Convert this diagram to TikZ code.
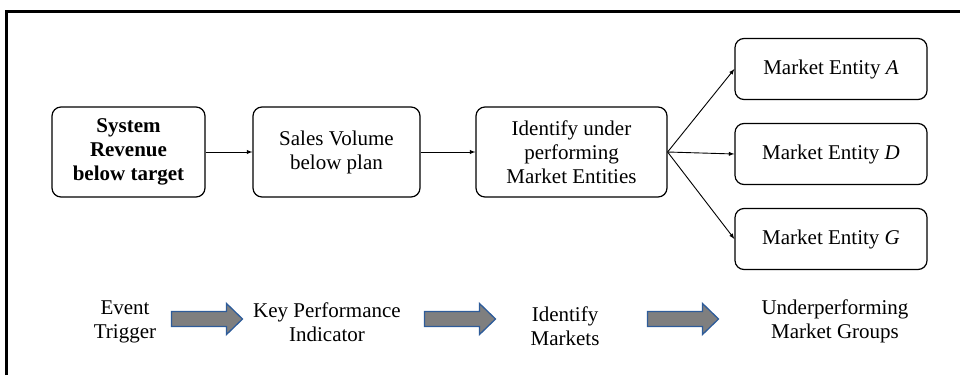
\documentclass[tikz,border=0pt]{standalone}
\usepackage{fontspec}
\setmainfont{Liberation Serif}
\usepackage{xcolor}
\usetikzlibrary{positioning, shapes, arrows}

\definecolor{stepgray}{HTML}{7F7F7F}
\definecolor{stepblue}{HTML}{2E5C9A}

% block arrow between the stage labels
\newcommand{\blockarrow}[1]{%
	\draw[draw=stepblue, fill=stepgray, line width=1.3pt]
		([shift={(-35.5,-7.5)}]#1) -- ([shift={(19.5,-7.5)}]#1) -- ([shift={(19.5,-15.5)}]#1)
		-- ([shift={(35.5,0)}]#1) -- ([shift={(19.5,15.5)}]#1) -- ([shift={(19.5,7.5)}]#1)
		-- ([shift={(-35.5,7.5)}]#1) -- cycle;}

\begin{document}
\begin{tikzpicture}[
		x=1pt, y=-1pt,
		font=\rmfamily\fontsize{21}{24}\selectfont,
		box/.style={rectangle, draw, line width=1.2pt, rounded corners=9pt, minimum height=#1, align=center, inner sep=2pt},
		box/.default=90pt,
		stage/.style={align=center, inner sep=0pt},
		line/.style={draw, line width=0.9pt, -latex}
		]
		\useasboundingbox (0,0) rectangle (960,375);
		
		% Frame (top and left edge)
		\draw[line width=3pt] (6.5,375) |- (960,11.5);
		
		% Main chain
		\node[box, minimum width=153pt, font=\rmfamily\bfseries\fontsize{21}{24}\selectfont] (sysrev) at (128.5,152) {System\\Revenue\\below target};
		\node[box, minimum width=167pt] (sales) at (336.5,152) {Sales Volume\\below plan};
		\node[box, minimum width=191pt] (ident) at (571.5,152) {Identify under\\performing\\Market Entities};
		
		% Market entities
		\node[box=61pt, minimum width=192pt] (entA) at (831,69) {Market Entity \textit{A}};
		\node[box=61pt, minimum width=192pt] (entD) at (831,154) {Market Entity \textit{D}};
		\node[box=61pt, minimum width=192pt] (entG) at (831,239) {Market Entity \textit{G}};
		
		% Connections
		\path[line] (sysrev) -- (sales);
		\path[line] (sales) -- (ident);
		\path[line] (ident.east) -- (entA.west);
		\path[line] (ident.east) -- (entD.west);
		\path[line] (ident.east) -- (entG.west);
		
		% Stages along the bottom
		\node[stage] (trigger) at (125,322) {Event\\Trigger};
		\node[stage] (kpi) at (327,322) {Key Performance\\Indicator};
		\node[stage] (markets) at (565,326) {Identify\\Markets};
		\node[stage] (groups) at (835,321) {Underperforming\\Market Groups};
		
		\coordinate (flowA) at (207,319);
		\coordinate (flowB) at (460,319);
		\coordinate (flowC) at (683,319);
		\blockarrow{flowA}
		\blockarrow{flowB}
		\blockarrow{flowC}
		
	\end{tikzpicture}
\end{document}
